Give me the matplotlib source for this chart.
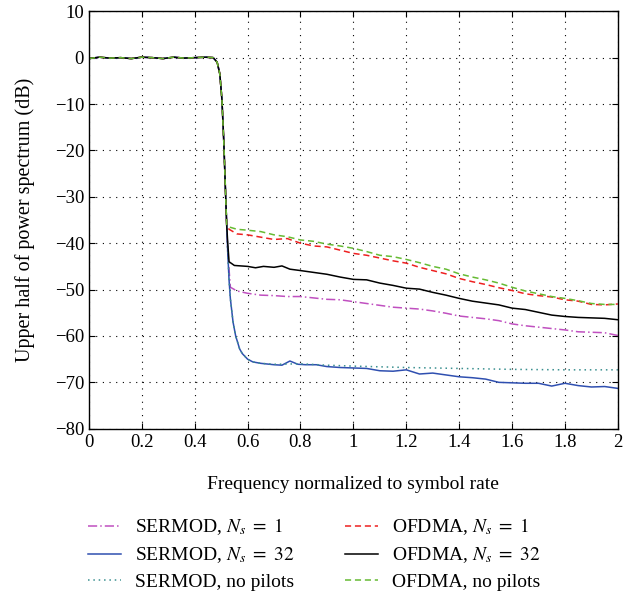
import matplotlib.pyplot as plt
import numpy as np

plt.rcParams['font.family'] = ['Liberation Serif', 'DejaVu Serif']
plt.rcParams['mathtext.fontset'] = 'stix'
plt.rcParams['axes.unicode_minus'] = True

# shared pass-band / roll-off part
head_f = [0, 0.04, 0.08, 0.12, 0.16, 0.2, 0.24, 0.28, 0.32, 0.36, 0.4, 0.44,
          0.47, 0.485, 0.495, 0.503, 0.51, 0.516, 0.521]
head_db = [-0.2, 0.1, -0.1, 0.0, -0.2, 0.1, 0.0, -0.2, 0.1, -0.1, 0.0, 0.1,
           0.0, -1.0, -3.5, -9, -18, -28, -36]

# tails of each spectrum
ofdma_np_f = [0.53, 0.56, 0.6, 0.65, 0.7, 0.75, 0.8, 0.85, 0.9, 0.95, 1.0, 1.05, 1.1,
              1.15, 1.2, 1.25, 1.3, 1.35, 1.4, 1.45, 1.5, 1.55, 1.6, 1.65, 1.7, 1.75,
              1.8, 1.85, 1.9, 1.95, 2.0]
ofdma_np_db = [-36.5, -37.0, -37.2, -37.5, -38.2, -38.6, -39.3, -39.6, -40.2, -40.6,
               -41.1, -41.8, -42.6, -42.9, -43.5, -44.2, -45.0, -45.6, -46.6, -47.3,
               -47.9, -48.6, -49.5, -50.3, -50.9, -51.5, -51.9, -52.4, -53.0, -53.2, -53.2]

ofdma_1_f = ofdma_np_f
ofdma_1_db = [-37.0, -38.0, -38.2, -38.7, -39.2, -39.0, -40.0, -40.6, -40.8, -41.5,
              -42.2, -42.6, -43.2, -43.8, -44.3, -45.2, -45.9, -46.6, -47.6, -48.3,
              -48.9, -49.6, -50.2, -50.9, -51.3, -51.6, -52.2, -52.5, -53.2, -53.3, -53.1]

ofdma_32_f = [0.525, 0.53, 0.55, 0.6, 0.63, 0.66, 0.7, 0.73, 0.76, 0.8, 0.85, 0.9,
              0.95, 1.0, 1.05, 1.1, 1.15, 1.2, 1.25, 1.3, 1.35, 1.4, 1.45, 1.5, 1.55,
              1.6, 1.65, 1.7, 1.75, 1.8, 1.85, 1.9, 1.95, 2.0]
ofdma_32_db = [-40, -44.0, -44.8, -45.0, -45.3, -45.0, -45.2, -44.9, -45.6, -45.9,
               -46.3, -46.7, -47.3, -47.8, -47.9, -48.6, -49.1, -49.7, -49.9, -50.6,
               -51.2, -51.9, -52.5, -52.9, -53.3, -54.0, -54.3, -54.9, -55.5, -55.8,
               -56.0, -56.1, -56.2, -56.5]

sermod_1_f = [0.525, 0.535, 0.56, 0.6, 0.65, 0.7, 0.75, 0.8, 0.85, 0.9, 0.95, 1.0,
              1.05, 1.1, 1.15, 1.2, 1.25, 1.3, 1.35, 1.4, 1.45, 1.5, 1.55, 1.6, 1.65,
              1.7, 1.75, 1.8, 1.85, 1.9, 1.95, 2.0]
sermod_1_db = [-42, -49.5, -50.3, -50.8, -51.2, -51.3, -51.5, -51.5, -51.8, -52.1,
               -52.2, -52.6, -53.0, -53.4, -53.8, -54.0, -54.2, -54.6, -55.1, -55.7,
               -56.0, -56.3, -56.7, -57.4, -57.8, -58.1, -58.4, -58.7, -59.1, -59.2,
               -59.3, -59.9]

sermod_32_f = [0.525, 0.53, 0.535, 0.545, 0.555, 0.57, 0.58, 0.6, 0.62, 0.65, 0.7,
               0.73, 0.76, 0.79, 0.82, 0.86, 0.9, 0.95, 1.0, 1.05, 1.1, 1.15, 1.2,
               1.25, 1.3, 1.35, 1.4, 1.45, 1.5, 1.55, 1.6, 1.65, 1.7, 1.75, 1.8, 1.85,
               1.9, 1.95, 2.0]
sermod_32_db = [-42, -48, -52, -57, -60, -62.8, -63.8, -65.0, -65.6, -65.9, -66.2,
                -66.3, -65.4, -66.1, -66.2, -66.2, -66.6, -66.8, -66.9, -67.0, -67.5,
                -67.6, -67.3, -68.2, -68.0, -68.4, -68.8, -69.0, -69.3, -70.0, -70.1,
                -70.2, -70.2, -70.8, -70.2, -70.7, -71.0, -70.9, -71.3]

sermod_np_f = [0.525, 0.53, 0.535, 0.545, 0.555, 0.57, 0.58, 0.6, 0.62, 0.65, 0.7,
               0.8, 0.9, 1.0, 1.2, 1.4, 1.6, 1.8, 2.0]
sermod_np_db = [-42, -48, -52, -57, -60, -62.8, -63.8, -65.0, -65.6, -65.9, -66.1,
                -66.0, -66.3, -66.5, -66.8, -67.0, -67.2, -67.3, -67.3]

series = [
    (r'SERMOD, $N_s\ =\ 1$', sermod_1_f, sermod_1_db, '#c050c0', (0, (6, 2, 1, 2))),
    (r'SERMOD, $N_s\ =\ 32$', sermod_32_f, sermod_32_db, '#2f4fb0', '-'),
    ('SERMOD, no pilots', sermod_np_f, sermod_np_db, '#3a9090', (0, (1, 2.5))),
    (r'OFDMA, $N_s\ =\ 1$', ofdma_1_f, ofdma_1_db, '#ee2020', (0, (4, 2.5))),
    (r'OFDMA, $N_s\ =\ 32$', ofdma_32_f, ofdma_32_db, 'black', '-'),
    ('OFDMA, no pilots', ofdma_np_f, ofdma_np_db, '#66bb33', (0, (4, 2.5))),
]

fig = plt.figure(figsize=(6.26, 5.93), dpi=100)
ax = fig.add_axes([0.142, 0.277, 0.845, 0.704])

for name, f, db, col, ls in series:
    ax.plot(head_f + list(f), head_db + list(db), color=col, ls=ls, lw=1.1, label=name)

ax.set_xlim(0, 2)
ax.set_ylim(-80, 10)
xt = np.arange(0, 2.01, 0.2)
ax.set_xticks(xt)
ax.set_xticklabels(['0', '0.2', '0.4', '0.6', '0.8', '1', '1.2', '1.4', '1.6', '1.8', '2'])
ax.set_yticks(np.arange(-80, 11, 10))
ax.grid(True, color='black', ls=(0, (1, 5)), lw=0.8)
ax.tick_params(direction='in', top=True, right=True, labelsize=13.5, length=4)
for s in ax.spines.values():
    s.set_linewidth(1.0)

ax.set_xlabel('Frequency normalized to symbol rate', fontsize=14, labelpad=18)
ax.set_ylabel('Upper half of power spectrum (dB)', fontsize=14.5, labelpad=14)

fig.legend(loc='center', bbox_to_anchor=(0.502, 0.066), ncol=2, frameon=False,
           fontsize=14, handlelength=1.7, columnspacing=2.6, labelspacing=0.42,
           handletextpad=0.7)

fig.savefig('out.png', dpi=100)
